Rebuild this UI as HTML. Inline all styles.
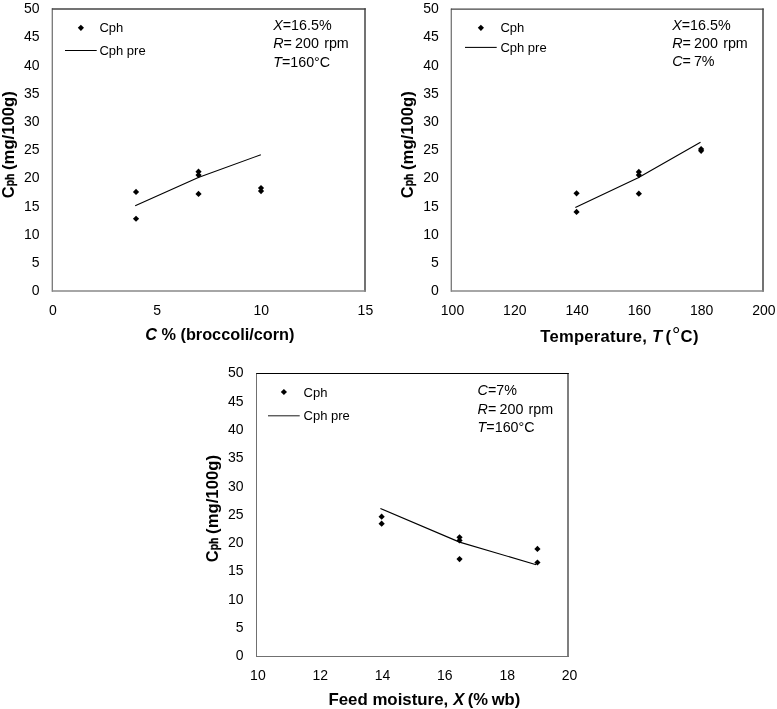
<!DOCTYPE html>
<html>
<head>
<meta charset="utf-8">
<title>Cph charts</title>
<style>
html, body { margin: 0; padding: 0; background: #ffffff; }
body { width: 777px; height: 709px; overflow: hidden; }
svg { display: block; will-change: transform; filter: grayscale(1); }
svg text { font-family: "Liberation Sans", sans-serif; fill: #000; }
.tk text { font-size: 14px; }
.lg text { font-size: 13px; }
.an text { font-size: 14.3px; }
.i { font-style: italic; }
.ti { font-size: 16.4px; font-weight: bold; }
.sub { font-size: 10.5px; }
</style>
</head>
<body>
<svg width="777" height="709" viewBox="0 0 777 709">
<rect x="0" y="0" width="777" height="709" fill="#ffffff"/>
<!-- chart 1 -->
<line x1="52.3" y1="8.32" x2="52.3" y2="291.75" stroke="#777" stroke-width="1.3"/>
<line x1="365" y1="8.32" x2="365" y2="291.75" stroke="#444" stroke-width="1.5"/>
<line x1="51.95" y1="291.05" x2="365.75" y2="291.05" stroke="#888" stroke-width="1.4"/>
<line x1="51.95" y1="9" x2="365.75" y2="9" stroke="#444" stroke-width="1.35"/>
<g class="tk" text-anchor="end">
<text x="39.6" y="295.2">0</text>
<text x="39.6" y="267.01">5</text>
<text x="39.6" y="238.82">10</text>
<text x="39.6" y="210.63">15</text>
<text x="39.6" y="182.44">20</text>
<text x="39.6" y="154.25">25</text>
<text x="39.6" y="126.06">30</text>
<text x="39.6" y="97.87">35</text>
<text x="39.6" y="69.68">40</text>
<text x="39.6" y="41.49">45</text>
<text x="39.6" y="13.3">50</text>
</g>
<g class="tk" text-anchor="middle">
<text x="52.9" y="314.9">0</text>
<text x="157.07" y="314.9">5</text>
<text x="261.23" y="314.9">10</text>
<text x="365.4" y="314.9">15</text>
</g>
<g fill="#000">
<path d="M136.03 188.85L139.13 191.95L136.03 195.05L132.93 191.95Z"/>
<path d="M136.03 215.63L139.13 218.73L136.03 221.83L132.93 218.73Z"/>
<path d="M198.53 168.56L201.63 171.66L198.53 174.76L195.43 171.66Z"/>
<path d="M198.53 171.94L201.63 175.04L198.53 178.14L195.43 175.04Z"/>
<path d="M198.53 190.83L201.63 193.93L198.53 197.03L195.43 193.93Z"/>
<path d="M261.03 184.91L264.13 188.01L261.03 191.11L257.93 188.01Z"/>
<path d="M261.03 188.01L264.13 191.11L261.03 194.21L257.93 191.11Z"/>
</g>
<path d="M135.19 205.77 L198.33 177.46 L260.83 154.74" fill="none" stroke="#000" stroke-width="1.12" stroke-linejoin="round"/>
<g fill="#000"><path d="M80.9 24.7L84 27.8L80.9 30.9L77.8 27.8Z"/></g>
<line x1="65" y1="50.5" x2="96.7" y2="50.5" stroke="#000" stroke-width="1.05"/>
<g class="lg"><text x="99.4" y="31.7">Cph</text><text x="99.4" y="54.5">Cph pre</text></g>
<g class="an">
<text x="273.2" y="29.5" xml:space="preserve"><tspan class="i">X</tspan>=16.5%</text>
<text x="273.2" y="47.9" xml:space="preserve"><tspan class="i">R</tspan>=<tspan dx="3.2">200</tspan><tspan dx="5.2">rpm</tspan></text>
<text x="273.2" y="66.6" xml:space="preserve"><tspan class="i">T</tspan>=160°C</text>
</g>
<g class="ti" transform="translate(14.3 198.3) rotate(-90)">
<text x="0" y="0">C</text>
<text transform="translate(12 0) scale(0.82 1)" style="font-size:12.6px" stroke="#000" stroke-width="0.35">ph</text>
<text x="23.7" y="0" style="font-size:16.7px" xml:space="preserve"> (mg/100g)</text>
</g>
<g class="ti" style="font-size:16.3px">
<text x="145.2" y="340.3"  xml:space="preserve"><tspan class="i">C</tspan> % (broccoli/corn)</text>
</g>
<!-- chart 2 -->
<line x1="451.3" y1="8.42" x2="451.3" y2="291.75" stroke="#777" stroke-width="1.3"/>
<line x1="763" y1="8.42" x2="763" y2="291.75" stroke="#444" stroke-width="1.5"/>
<line x1="450.95" y1="291.05" x2="763.75" y2="291.05" stroke="#888" stroke-width="1.4"/>
<line x1="450.95" y1="9.1" x2="763.75" y2="9.1" stroke="#444" stroke-width="1.35"/>
<g class="tk" text-anchor="end">
<text x="438.8" y="295.2">0</text>
<text x="438.8" y="267.01">5</text>
<text x="438.8" y="238.82">10</text>
<text x="438.8" y="210.63">15</text>
<text x="438.8" y="182.44">20</text>
<text x="438.8" y="154.25">25</text>
<text x="438.8" y="126.06">30</text>
<text x="438.8" y="97.87">35</text>
<text x="438.8" y="69.68">40</text>
<text x="438.8" y="41.49">45</text>
<text x="438.8" y="13.3">50</text>
</g>
<g class="tk" text-anchor="middle">
<text x="452.5" y="314.9">100</text>
<text x="514.78" y="314.9">120</text>
<text x="577.06" y="314.9">140</text>
<text x="639.34" y="314.9">160</text>
<text x="701.62" y="314.9">180</text>
<text x="763.9" y="314.9">200</text>
</g>
<g fill="#000">
<path d="M576.56 190.26L579.66 193.36L576.56 196.46L573.46 193.36Z"/>
<path d="M576.56 208.87L579.66 211.97L576.56 215.07L573.46 211.97Z"/>
<path d="M638.84 168.84L641.94 171.94L638.84 175.04L635.74 171.94Z"/>
<path d="M638.84 171.94L641.94 175.04L638.84 178.14L635.74 175.04Z"/>
<path d="M638.84 190.54L641.94 193.64L638.84 196.74L635.74 193.64Z"/>
<path d="M701.12 146L704.22 149.1L701.12 152.2L698.02 149.1Z"/>
<path d="M701.12 147.7L704.22 150.8L701.12 153.9L698.02 150.8Z"/>
</g>
<path d="M575.33 207.47 L638.24 177.86 L700.52 142.34" fill="none" stroke="#000" stroke-width="1.12" stroke-linejoin="round"/>
<g fill="#000"><path d="M480.9 24.7L484 27.8L480.9 30.9L477.8 27.8Z"/></g>
<line x1="465" y1="47.4" x2="496.7" y2="47.4" stroke="#000" stroke-width="1.05"/>
<g class="lg"><text x="500.4" y="31.7">Cph</text><text x="500.4" y="51.8">Cph pre</text></g>
<g class="an">
<text x="672.2" y="29.5" xml:space="preserve"><tspan class="i">X</tspan>=16.5%</text>
<text x="672.2" y="47.9" xml:space="preserve"><tspan class="i">R</tspan>=<tspan dx="3.2">200</tspan><tspan dx="5.2">rpm</tspan></text>
<text x="672.2" y="66.4" xml:space="preserve"><tspan class="i">C</tspan>=<tspan dx="3.0">7%</tspan></text>
</g>
<g class="ti" transform="translate(413.3 198.3) rotate(-90)">
<text x="0" y="0">C</text>
<text transform="translate(12 0) scale(0.82 1)" style="font-size:12.6px" stroke="#000" stroke-width="0.35">ph</text>
<text x="23.7" y="0" style="font-size:16.7px" xml:space="preserve"> (mg/100g)</text>
</g>
<g class="ti" style="font-size:16.6px">
<text x="540.3" y="341.5" textLength="106.5" lengthAdjust="spacing" xml:space="preserve">Temperature,</text>
<text x="651.9" y="341.5" class="i" xml:space="preserve">T</text>
<text x="665.6" y="341.5"  xml:space="preserve">(</text>
<text x="671.9" y="341.5" style="font-size:21px;font-weight:normal" dy="0.4" xml:space="preserve">°</text>
<text x="680.5" y="341.5"  xml:space="preserve">C</text>
<text x="692.9" y="341.5"  xml:space="preserve">)</text>
</g>
<!-- chart 3 -->
<line x1="256.5" y1="373" x2="256.5" y2="657" stroke="#707070" stroke-width="1"/>
<line x1="568" y1="373" x2="568" y2="657" stroke="#555" stroke-width="1.5"/>
<line x1="256.3" y1="656.5" x2="568.75" y2="656.5" stroke="#707070" stroke-width="1"/>
<line x1="256.3" y1="373.5" x2="568.75" y2="373.5" stroke="#000" stroke-width="1"/>
<g class="tk" text-anchor="end">
<text x="243.5" y="660.3">0</text>
<text x="243.5" y="632.01">5</text>
<text x="243.5" y="603.72">10</text>
<text x="243.5" y="575.43">15</text>
<text x="243.5" y="547.14">20</text>
<text x="243.5" y="518.85">25</text>
<text x="243.5" y="490.56">30</text>
<text x="243.5" y="462.27">35</text>
<text x="243.5" y="433.98">40</text>
<text x="243.5" y="405.69">45</text>
<text x="243.5" y="377.4">50</text>
</g>
<g class="tk" text-anchor="middle">
<text x="257.9" y="679.8">10</text>
<text x="320.22" y="679.8">12</text>
<text x="382.54" y="679.8">14</text>
<text x="444.86" y="679.8">16</text>
<text x="507.18" y="679.8">18</text>
<text x="569.5" y="679.8">20</text>
</g>
<g fill="#000">
<path d="M381.64 513.55L384.74 516.65L381.64 519.75L378.54 516.65Z"/>
<path d="M381.64 520.62L384.74 523.72L381.64 526.82L378.54 523.72Z"/>
<path d="M459.54 534.2L462.64 537.3L459.54 540.4L456.44 537.3Z"/>
<path d="M459.54 537.31L462.64 540.41L459.54 543.51L456.44 540.41Z"/>
<path d="M459.54 555.98L462.64 559.08L459.54 562.18L456.44 559.08Z"/>
<path d="M537.44 545.8L540.54 548.9L537.44 552L534.34 548.9Z"/>
<path d="M537.44 559.38L540.54 562.48L537.44 565.58L534.34 562.48Z"/>
</g>
<path d="M380.4 508.45 L459.56 542.11 L536.22 564.74" fill="none" stroke="#000" stroke-width="1.12" stroke-linejoin="round"/>
<g fill="#000"><path d="M283.9 388.9L287 392L283.9 395.1L280.8 392Z"/></g>
<line x1="268" y1="415.8" x2="299.7" y2="415.8" stroke="#222" stroke-width="1.05"/>
<g class="lg"><text x="303.6" y="396.7">Cph</text><text x="303.6" y="419.8">Cph pre</text></g>
<g class="an">
<text x="477.6" y="394.7" xml:space="preserve"><tspan class="i">C</tspan>=7%</text>
<text x="477.6" y="413.5" xml:space="preserve"><tspan class="i">R</tspan>=<tspan dx="3.2">200</tspan><tspan dx="5.2">rpm</tspan></text>
<text x="477.6" y="431.7" xml:space="preserve"><tspan class="i">T</tspan>=160°C</text>
</g>
<g class="ti" transform="translate(218.2 562.2) rotate(-90)">
<text x="0" y="0">C</text>
<text transform="translate(12 0) scale(0.82 1)" style="font-size:12.6px" stroke="#000" stroke-width="0.35">ph</text>
<text x="23.7" y="0" style="font-size:16.7px" xml:space="preserve"> (mg/100g)</text>
</g>
<g class="ti" style="font-size:16.6px">
<text x="328.4" y="705.1"  xml:space="preserve"><tspan style="font-size:16.85px">Feed moisture,</tspan> <tspan class="i" dx="0.5">X</tspan><tspan dx="-1.2"> (%</tspan><tspan dx="-1"> wb)</tspan></text>
</g>
</svg>
</body>
</html>
